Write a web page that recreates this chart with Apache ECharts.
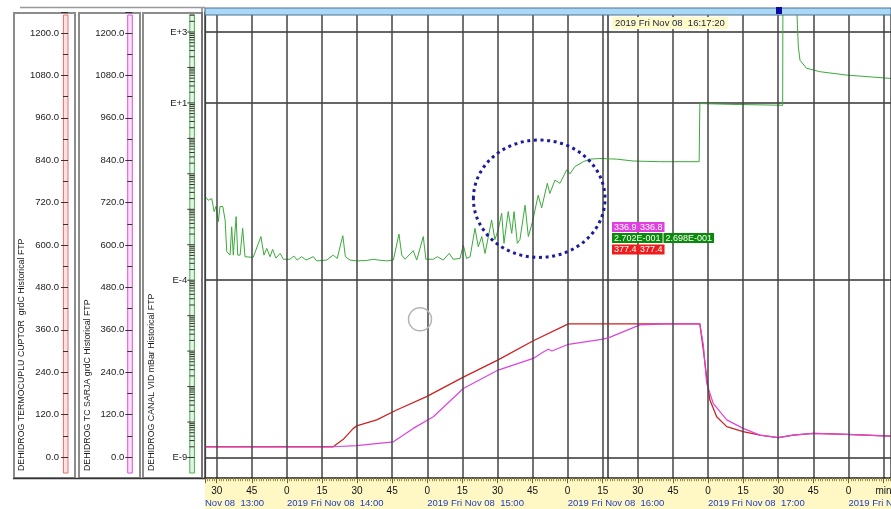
<!DOCTYPE html>
<html>
<head>
<meta charset="utf-8">
<script src="https://cdn.jsdelivr.net/npm/echarts@6/dist/echarts.min.js"></script>
<style>
  html, body { margin: 0; padding: 0; background: #fff; }
  #chart { width: 891px; height: 509px; }
</style>
</head>
<body>
<div id="chart"></div>
<script>
// time = minutes after 13:00, 2019 Fri Nov 08
const furnaceTime = [25, 79.8, 84.1, 88.4, 89.8, 98.4, 106.9, 119.7, 135.4, 150.3, 165.3, 180.3, 197.6, 236.5,
    238.0, 239.4, 240.8, 243.7, 248.0, 255.0, 262.2, 270.0, 276.4, 285.0, 299.2, 318.2];
const furnaceTemp = [29, 29, 50, 81, 88, 105, 133, 171, 226, 275, 329, 377, 377, 377,
    303, 227, 161, 114, 86, 72, 62, 55, 62, 67, 64, 59];

const chargeTime = [25, 79.8, 89.8, 105.5, 114.0, 122.6, 135.4, 150.3, 165.3, 169.6, 171.7, 173.3, 180.3, 194.5,
    197.4, 210.9, 222.3, 236.5, 238.0, 239.4, 242.2, 248.0, 255.0, 262.2, 270.0, 276.4, 285.0, 299.2, 318.2];
const chargeTemp = [29, 29, 32, 43, 81, 114, 194, 246, 279, 297, 305, 300, 319, 333,
    337, 374, 377, 377, 317, 209, 152, 105, 81, 62, 55, 62, 67, 64, 59];

// vacuum in mbar (log axis)
const vacuumTime = [25, 26.4, 27.9, 28.9, 29.7, 30.7, 31.4, 32.6, 33.6, 34.3, 35.7, 36.4, 37.1, 38.3, 39.0, 40.0,
    41.1, 42.1, 45.6, 48.9, 50.2, 51.4, 52.8, 53.9, 55.3, 57.1, 58.5, 61.3, 63.0, 64.4, 66.3, 68.2, 71.3, 72.7,
    77.0, 79.8, 81.5, 83.9, 85.0, 87.0, 89.8, 94.1, 96.9, 99.1, 102.7, 105.5, 107.9, 109.1, 110.5, 114.0, 115.5,
    118.3, 119.4, 122.6, 124.3, 126.8, 129.4, 131.1, 134.0, 135.4, 136.8, 138.3, 140.4, 141.8, 143.3, 144.7,
    147.5, 148.9, 150.3, 151.8, 152.8, 154.6, 156.1, 157.1, 158.5, 159.6, 161.8, 163.2, 165.0, 167.4, 168.9,
    171.3, 172.4, 174.6, 176.7, 179.6, 181.0, 183.1, 186.7, 189.5, 193.8, 200.9, 208.0, 219.4, 236.2, 236.5,
    253.6, 271.9, 272.0, 277.9, 278.2, 278.6, 279.3, 282.1, 287.8, 299.2, 318.2];
const vacuumMbar = [2.3e-2, 1.8e-2, 2.0e-2, 8.6e-3, 1.2e-2, 4.5e-3, 1.2e-2, 1.2e-2, 5.0e-3, 6.4e-4, 5.1e-4, 3.2e-3,
    5.1e-4, 6.2e-3, 5.1e-4, 5.1e-4, 2.9e-3, 4.6e-4, 4.4e-4, 1.7e-3, 5.1e-4, 7.9e-4, 4.6e-4, 7.4e-4, 4.2e-4,
    5.7e-4, 3.9e-4, 3.9e-4, 4.8e-4, 3.7e-4, 4.6e-4, 3.7e-4, 4.6e-4, 3.5e-4, 3.7e-4, 5.1e-4, 4.1e-4, 1.8e-3,
    4.6e-4, 3.7e-4, 3.5e-4, 3.6e-4, 3.9e-4, 3.7e-4, 3.5e-4, 3.7e-4, 2.0e-3, 5.1e-4, 3.9e-4, 6.8e-4, 3.7e-4,
    1.7e-3, 3.9e-4, 3.9e-4, 4.6e-4, 3.7e-4, 5.7e-4, 3.9e-4, 4.1e-4, 9.8e-4, 4.1e-4, 4.6e-4, 2.9e-3, 8.8e-4,
    1.7e-3, 5.7e-4, 5.0e-3, 1.4e-3, 2.6e-3, 7.7e-3, 1.1e-3, 8.6e-3, 2.1e-3, 8.6e-3, 1.1e-3, 1.4e-3, 1.3e-2,
    1.7e-3, 4.5e-3, 2.5e-2, 1.1e-2, 5.4e-2, 2.8e-2, 6.7e-2, 5.4e-2, 0.13, 0.10, 0.16, 0.22, 0.26, 0.27, 0.26,
    0.23, 0.22, 0.22, 9.6, 9.0, 8.6, 5000, 5000, 1600, 380, 160, 95, 76, 61, 49];

const decades = [-9, -8, -7, -6, -5, -4, -3, -2, -1, 0, 1, 2, 3];
const decadeLabels = { '3': 'E+3', '1': 'E+1', '-4': 'E-4', '-9': 'E-9' };
const gridDecades = [3, 1, -4, -9];

const cursorTime = 197.33;
const cursorText = '2019 Fri Nov 08  16:17:20';
const readCharge = ['336.9', '336.8'];
const readVacuum = ['2.702E-001', '2.698E-001'];
const readFurnace = ['377.4', '377.4'];

const FONT = '"Liberation Sans", Arial, sans-serif';
const LOG_MIN = -9.584, LOG_MAX = 3.57;

const zip = (a, b) => a.map((v, i) => [v, b[i]]);

const chart = echarts.init(document.getElementById('chart'));

function valAxis(offset, margin) {
    return {
        type: 'value', min: -60, max: 1260, minInterval: 120, maxInterval: 120,
        position: 'left', offset: offset, z: 5,
        axisLine: { show: false, onZero: false },
        axisTick: { show: true, length: 7, lineStyle: { color: '#333', width: 1 } },
        minorTick: { show: true, splitNumber: 2, length: 5, lineStyle: { color: '#333', width: 1 } },
        splitLine: { show: false },
        axisLabel: {
            margin: margin, fontSize: 9.5, color: '#222', fontFamily: FONT,
            formatter: v => (v >= 0 && v <= 1200 && v % 120 === 0) ? v.toFixed(1) : ''
        }
    };
}

function panel(x1, x2) {
    return { type: 'rect', z: 1, shape: { x: x1, y: 13, width: x2 - x1, height: 465 },
        style: { fill: null, stroke: '#8c8c8c', lineWidth: 2 } };
}
function bar(x, stroke, fill) {
    return { type: 'rect', z: 2, shape: { x: x, y: 15, width: 4.6, height: 458 },
        style: { fill: fill, stroke: stroke, lineWidth: 1 } };
}
function vname(x, text) {
    return { type: 'text', z: 3, x: x, y: 471, rotation: Math.PI / 2,
        style: { text: text, font: '8.8px ' + FONT, fill: '#1a1a1a', align: 'left', verticalAlign: 'middle' } };
}
function readBox(x, y, text, bg) {
    return { type: 'text', z: 12, x: x, y: y,
        style: { text: text, font: '9px ' + FONT, fill: '#fff', backgroundColor: bg,
            padding: [1, 2, 0, 2], align: 'left', verticalAlign: 'top' } };
}

const option = {
    animation: false,
    grid: { left: 205, right: 0, top: 11.8, bottom: 30.8, show: false, containLabel: false, outerBoundsMode: 'none' },
    xAxis: [{
        type: 'value', min: 25, max: 318.2, minInterval: 15, maxInterval: 15, position: 'bottom', z: 5,
        axisLine: { show: true, onZero: false, lineStyle: { color: '#222', width: 1.5 } },
        axisTick: { show: true, length: 5, lineStyle: { color: '#6b6030' } },
        minorTick: { show: true, splitNumber: 15, length: 3, lineStyle: { color: '#9a8c48' } },
        splitLine: { show: true, lineStyle: { color: '#444', width: 1.5 } },
        axisLabel: {
            margin: 8, fontSize: 10, color: '#111', fontFamily: FONT, showMinLabel: true, showMaxLabel: true,
            formatter: v => {
                if (v === 315) return 'min';
                return (v % 15 === 0) ? String(v % 60) : '';
            }
        }
    }, {
        type: 'value', min: 25, max: 318.2, minInterval: 60, maxInterval: 60, position: 'bottom', offset: 12, z: 5,
        axisLine: { show: false, onZero: false }, axisTick: { show: false }, splitLine: { show: false },
        axisLabel: {
            margin: 8, fontSize: 9.5, color: '#1c3cc0', fontFamily: FONT, align: 'left',
            showMinLabel: true, showMaxLabel: true,
            formatter: v => {
                if (v === 25) return 'Nov 08  13:00';
                if (v % 60 !== 0) return '';
                return '2019 Fri Nov 08  ' + (13 + v / 60) + ':00';
            }
        }
    }],
    yAxis: [
        valAxis(137, 9),
        valAxis(72.7, 8),
        {
            type: 'value', min: LOG_MIN, max: LOG_MAX, minInterval: 1, maxInterval: 1,
            position: 'left', offset: 10.7, z: 5,
            axisLine: { show: false, onZero: false }, axisTick: { show: false }, splitLine: { show: false },
            axisLabel: {
                margin: 7, fontSize: 9.5, color: '#222', fontFamily: FONT,
                formatter: v => decadeLabels[String(v)] || ''
            }
        }
    ],
    series: [{
        type: 'line', name: 'DEHIDROG TERMOCUPLU CUPTOR', xAxisIndex: 0, yAxisIndex: 0,
        data: zip(furnaceTime, furnaceTemp), showSymbol: false, z: 4,
        lineStyle: { color: '#cc2222', width: 1.3 }
    }, {
        type: 'line', name: 'DEHIDROG TC SARJA', xAxisIndex: 0, yAxisIndex: 1,
        data: zip(chargeTime, chargeTemp), showSymbol: false, z: 4,
        lineStyle: { color: '#dd44dd', width: 1.2 }
    }, {
        type: 'line', name: 'DEHIDROG CANAL VID', xAxisIndex: 0, yAxisIndex: 2,
        data: zip(vacuumTime, vacuumMbar.map(v => Math.log10(v))), showSymbol: false, z: 4,
        lineStyle: { color: '#3aaa3a', width: 1 },
        markLine: {
            silent: true, symbol: 'none', label: { show: false }, z: 3,
            lineStyle: { color: '#333', width: 1.5, type: 'solid' },
            data: gridDecades.map(d => ({ yAxis: d })).concat([{ xAxis: cursorTime }])
        }
    }, {
        type: 'custom', name: 'log ticks', xAxisIndex: 0, yAxisIndex: 2, clip: false, z: 6, silent: true,
        data: decades.map(d => [25, d]),
        renderItem: (params, api) => {
            const d = api.value(1);
            const children = [];
            for (let k = 1; k <= 9; k++) {
                const y = api.coord([25, d + Math.log10(k)])[1];
                if (y < 15 || y > 473) continue;
                const x1 = k === 1 ? 187.3 : 189.5;
                children.push({ type: 'line', shape: { x1: x1, y1: y, x2: 194.5, y2: y },
                    style: { stroke: '#333', lineWidth: 1 } });
            }
            return { type: 'group', children: children };
        }
    }],
    graphic: [
        { type: 'line', z: 1, shape: { x1: 20, y1: 7.5, x2: 205, y2: 7.5 }, style: { stroke: '#999', lineWidth: 1.5 } },
        panel(14, 75), panel(79, 140), panel(143, 202),
        { type: 'line', z: 2, shape: { x1: 13, y1: 478.5, x2: 205, y2: 478.5 }, style: { stroke: '#333', lineWidth: 1.5 } },
        bar(63.4, '#ee6a6a', '#fde4e4'),
        bar(127.7, '#e050e0', '#fbe2fb'),
        bar(189.8, '#4cb04c', '#e2f4e2'),
        vname(22, 'DEHIDROG TERMOCUPLU CUPTOR  grdC Historical FTP'),
        vname(88, 'DEHIDROG TC SARJA grdC Historical FTP'),
        vname(152, 'DEHIDROG CANAL VID mBar Historical FTP'),
        { type: 'rect', z: 0, shape: { x: 205, y: 478, width: 686, height: 31 }, style: { fill: '#fff8c4' } },
        { type: 'line', z: 3, shape: { x1: 202, y1: 8, x2: 202, y2: 478 }, style: { stroke: '#666', lineWidth: 1.2 } },
        { type: 'line', z: 3, shape: { x1: 205.5, y1: 8, x2: 205.5, y2: 478 }, style: { stroke: '#333', lineWidth: 1.2 } },
        { type: 'rect', z: 10, shape: { x: 205, y: 8, width: 686, height: 7 },
            style: { fill: '#a9d9f7', stroke: '#4f6f8f', lineWidth: 1 } },
        { type: 'rect', z: 11, shape: { x: 776, y: 7, width: 6, height: 7 }, style: { fill: '#0b0ba8' } },
        { type: 'text', z: 11, x: 612, y: 17,
            style: { text: cursorText, font: '9.5px ' + FONT, fill: '#1a2040', backgroundColor: '#fffbc8',
                padding: [1, 3, 1, 3], align: 'left', verticalAlign: 'top' } },
        readBox(612, 222, readCharge[0], '#e040e0'), readBox(638, 222, readCharge[1], '#e040e0'),
        readBox(612, 233, readVacuum[0], '#0a8a0a'), readBox(663.5, 233, readVacuum[1], '#0a8a0a'),
        readBox(612, 244.5, readFurnace[0], '#ee1c1c'), readBox(638, 244.5, readFurnace[1], '#ee1c1c'),
        { type: 'ellipse', z: 12, shape: { cx: 539.2, cy: 198.7, rx: 65.8, ry: 58.7 },
            style: { fill: null, stroke: '#1c1c9c', lineWidth: 3, lineDash: [3, 3.6] } },
        { type: 'circle', z: 12, shape: { cx: 420, cy: 319.3, r: 11.5 },
            style: { fill: null, stroke: '#b4b4b4', lineWidth: 1.5 } }
    ]
};

chart.setOption(option);
</script>
</body>
</html>
